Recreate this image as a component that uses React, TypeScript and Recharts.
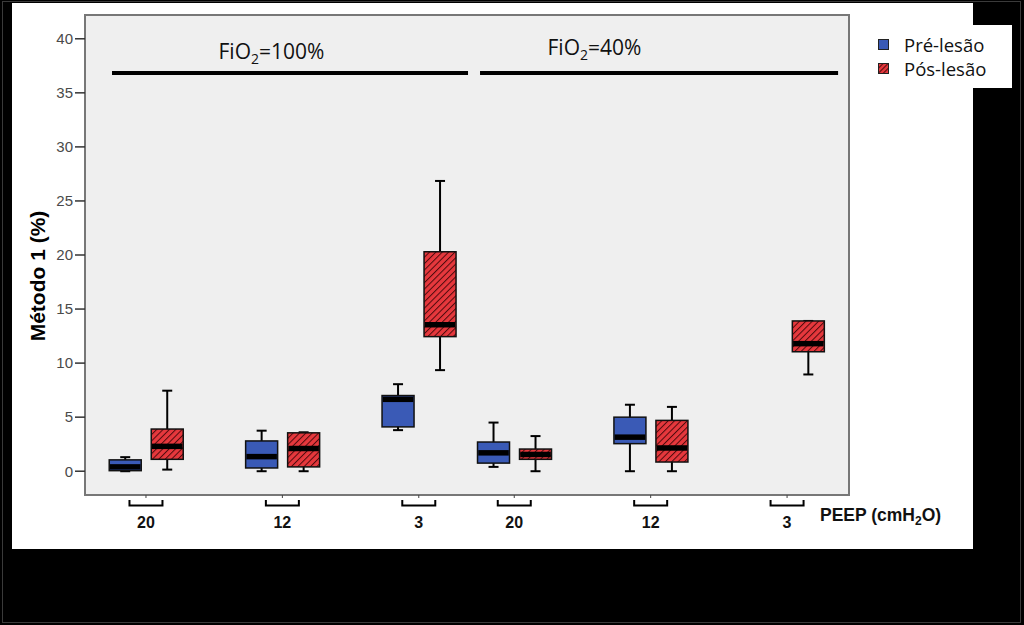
import React from "react";
import { ComposedChart, Bar, XAxis, YAxis, CartesianGrid, ReferenceArea, ReferenceLine, ReferenceDot } from "recharts";

// PEEP groups (FiO2 100% then 40%)
const groupLabels = ["20", "12", "3", "20", "12", "3"];
const groupPositions = [1, 2, 3, 3.7, 4.7, 5.7];

// [min, q1, median, q3, max]
const preLesao: (number[] | null)[] = [
  [0, 0.05, 0.4, 1.05, 1.3],
  [0, 0.3, 1.35, 2.8, 3.75],
  [3.8, 4.1, 6.65, 7.0, 8.05],
  [0.4, 0.75, 1.7, 2.7, 4.5],
  [0, 2.55, 3.15, 5.0, 6.15],
  null,
];
const posLesao: (number[] | null)[] = [
  [0.15, 1.1, 2.3, 3.9, 7.45],
  [0, 0.4, 2.1, 3.55, 3.6],
  [9.35, 12.45, 13.55, 20.3, 26.85],
  [0, 1.1, 1.55, 2.05, 3.25],
  [0, 0.85, 2.15, 4.7, 5.95],
  [8.95, 11.05, 11.8, 13.9, 13.9],
];

const yTicks = [0, 5, 10, 15, 20, 25, 30, 35, 40];
const fioLabels = [
  { x: 1.92, y: 38.13, text: "100%" },
  { x: 4.288, y: 38.5, text: "40%" },
];
const fioLines = [
  [0.751, 3.361],
  [3.449, 6.074],
];

const X_DOMAIN: [number, number] = [0.553, 6.154];
const Y_DOMAIN: [number, number] = [-2.2, 42.2];

const BLUE = "#3a5ab6";
const RED = "#e6383d";

const data = groupPositions.map((x, i) => ({
  x,
  label: groupLabels[i],
  pre: preLesao[i],
  pos: posLesao[i],
}));

const makeBox = (key: "pre" | "pos", fill: string) => (props: any) => {
  const { x, y, width, height, payload } = props;
  const s = payload ? payload[key] : null;
  if (!s || !isFinite(height)) return <g />;
  const [mn, q1, md, q3, mx] = s;
  const k = height / (mx - mn);
  const py = (v: number) => y + (mx - v) * k;
  const cx = x + width / 2;
  return (
    <g>
      <line x1={cx} x2={cx} y1={py(mx)} y2={py(mn)} stroke="#000" strokeWidth={2} />
      <line x1={cx - 5} x2={cx + 5} y1={py(mx)} y2={py(mx)} stroke="#000" strokeWidth={2} />
      <line x1={cx - 5} x2={cx + 5} y1={py(mn)} y2={py(mn)} stroke="#000" strokeWidth={2} />
      <rect x={x} y={py(q3)} width={width} height={py(q1) - py(q3)} fill={fill} stroke="#111" strokeWidth={1.5} />
      <line x1={x + 0.75} x2={x + width - 0.75} y1={py(md)} y2={py(md)} stroke="#000" strokeWidth={5.5} />
    </g>
  );
};

const PeepTick = (props: any) => {
  const { x, y, payload } = props;
  const i = groupPositions.indexOf(payload.value);
  return (
    <g>
      <line x1={x} x2={x} y1={y} y2={y + 3} stroke="#444" strokeWidth={1} />
      <path d={`M${x - 16.5},${y + 5} V${y + 10.5} H${x + 16.5} V${y + 5}`} fill="none" stroke="#000" strokeWidth={2} />
      <text x={x} y={y + 33} textAnchor="middle" fontWeight="bold" fontSize={16} fontFamily="Liberation Sans, Arial, sans-serif" fill="#111">
        {groupLabels[i]}
      </text>
    </g>
  );
};

const FioText = (text: string) => (props: any) => (
  <text x={props.cx} y={props.cy} textAnchor="middle" fontSize={21} fontFamily="Open Sans, sans-serif" fill="#111">
    FiO<tspan dy={5} fontSize={14}>2</tspan>
    <tspan dy={-5}>={text}</tspan>
  </text>
);

const LegendItem = ({ color, hatched, label }: { color: string; hatched?: boolean; label: string }) => (
  <div style={{ display: "flex", alignItems: "center", height: 24 }}>
    <svg width={11} height={11} style={{ marginRight: 15 }}>
      <defs>
        <pattern id="legHatch" patternUnits="userSpaceOnUse" width={3.5} height={3.5} patternTransform="rotate(45)">
          <rect width={3.5} height={3.5} fill={RED} />
          <line x1={0} y1={0} x2={0} y2={3.5} stroke="#4a0a0c" strokeWidth={2} />
        </pattern>
      </defs>
      <rect x={0.5} y={0.5} width={10} height={10} fill={hatched ? "url(#legHatch)" : color} stroke="#222" strokeWidth={1} />
    </svg>
    <span>{label}</span>
  </div>
);

export default function App() {
  return (
    <div style={{ position: "absolute", left: 0, top: 0, width: 1024, height: 625, background: "#000", overflow: "hidden" }}>
      <div style={{ position: "absolute", left: 2, top: 1, right: 3, bottom: 2, border: "1px solid #3a3a3a" }} />
      <div style={{ position: "absolute", left: 12, top: 3, width: 961, height: 546, background: "#fff" }} />
      <div
        style={{
          position: "absolute",
          left: 862,
          top: 25,
          width: 150,
          height: 63,
          background: "#fff",
          padding: "7px 0 0 16px",
          boxSizing: "border-box",
          fontFamily: "Open Sans, sans-serif",
          fontSize: 18.5,
          color: "#111",
        }}
      >
        <LegendItem color={BLUE} label="Pré-lesão" />
        <LegendItem color={RED} hatched label="Pós-lesão" />
      </div>
      <div style={{ position: "absolute", left: 0, top: 0 }}>
        <ComposedChart width={1024} height={625} data={data} margin={{ top: 15, right: 175, bottom: 90, left: 45 }} barGap={10}>
          <defs>
            <pattern id="redHatch" patternUnits="userSpaceOnUse" width={4.5} height={4.5} patternTransform="rotate(45)">
              <rect width={4.5} height={4.5} fill={RED} />
              <line x1={0} y1={0} x2={0} y2={4.5} stroke="#4e0b0d" strokeWidth={2} />
            </pattern>
          </defs>
          <CartesianGrid horizontal={false} vertical={false} fill="#efefef" fillOpacity={1} />
          <XAxis
            dataKey="x"
            type="number"
            domain={X_DOMAIN}
            allowDataOverflow
            ticks={groupPositions}
            interval={0}
            axisLine={false}
            tickLine={false}
            tickSize={0}
            tickMargin={0}
            height={40}
            tick={<PeepTick />}
            label={{
              content: (p: any) => {
                const vb = p.viewBox;
                return (
                  <text x={vb.x + vb.width - 29} y={521} fontWeight="bold" fontSize={17.5} fontFamily="Liberation Sans, Arial, sans-serif" fill="#111">
                    PEEP (cmH<tspan dy={4} fontSize={12}>2</tspan>
                    <tspan dy={-4}>O)</tspan>
                  </text>
                );
              },
            }}
          />
          <YAxis
            type="number"
            domain={Y_DOMAIN}
            allowDataOverflow
            ticks={yTicks}
            interval={0}
            width={40}
            axisLine={false}
            tickSize={10}
            tickLine={{ stroke: "#333", strokeWidth: 1.5 }}
            tick={{ fill: "#4a4a4a", fontSize: 15, fontFamily: "Liberation Sans Narrow, Liberation Sans, Arial, sans-serif" }}
            label={{
              content: () => (
                <text
                  x={0}
                  y={0}
                  transform="translate(45,276) rotate(-90)"
                  textAnchor="middle"
                  fontWeight="bold"
                  fontSize={21}
                  fontFamily="Liberation Sans, Arial, sans-serif"
                  fill="#000"
                >
                  Método 1 (%)
                </text>
              ),
            }}
          />
          <ReferenceArea
            x1={X_DOMAIN[0]}
            x2={X_DOMAIN[1]}
            y1={Y_DOMAIN[0]}
            y2={Y_DOMAIN[1]}
            fill="none"
            stroke="#777"
            strokeWidth={2}
            ifOverflow="visible"
          />
          {fioLines.map(([a, b], i) => (
            <ReferenceLine
              key={`line-${i}`}
              segment={[{ x: a, y: 36.83 }, { x: b, y: 36.83 }]}
              stroke="#000"
              strokeWidth={4}
              ifOverflow="visible"
            />
          ))}
          {fioLabels.map((l, i) => (
            <ReferenceDot key={`fio-${i}`} x={l.x} y={l.y} r={0} shape={FioText(l.text)} ifOverflow="visible" />
          ))}
          <Bar
            dataKey={(d: any) => (d.pre ? [d.pre[0], d.pre[4]] : null)}
            name="Pré-lesão"
            barSize={32}
            fill={BLUE}
            shape={makeBox("pre", BLUE)}
            isAnimationActive={false}
          />
          <Bar
            dataKey={(d: any) => (d.pos ? [d.pos[0], d.pos[4]] : null)}
            name="Pós-lesão"
            barSize={32}
            fill={RED}
            shape={makeBox("pos", "url(#redHatch)")}
            isAnimationActive={false}
          />
        </ComposedChart>
      </div>
    </div>
  );
}
